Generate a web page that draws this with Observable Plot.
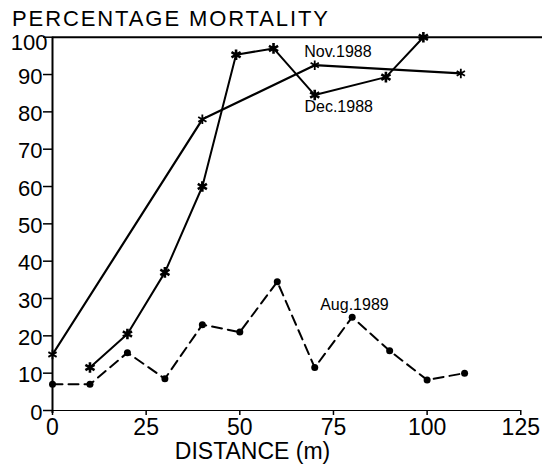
<!DOCTYPE html>
<html>
<head>
<meta charset="utf-8">
<script src="https://cdn.jsdelivr.net/npm/d3@7"></script>
<script src="https://cdn.jsdelivr.net/npm/@observablehq/plot@0.6"></script>
<style>
  html, body { margin: 0; padding: 0; background: #fff; }
  #wrap { position: relative; width: 542px; height: 466px; }
  #title { position: absolute; left: 12px; top: 0px; font-family: "Liberation Sans", Arial, sans-serif; font-size: 22px; line-height: 22px; padding-top: 8px; letter-spacing: 1.9px; color: #000; white-space: nowrap; }
</style>
</head>
<body>
<div id="wrap"><div id="title">PERCENTAGE MORTALITY</div></div>
<script>
// Nov. 1988 (solid line, asterisks)
const novX = [0, 40, 70, 109];
const novY = [15, 78, 92.5, 90.3];
// Dec. 1988 (solid line, asterisks)
const decX = [10, 20, 30, 40, 49, 59, 70, 89, 99];
const decY = [11.5, 20.5, 37, 60, 95.3, 97, 84.5, 89.3, 100];
// Aug. 1989 (dashed line, dots)
const augX = [0, 10, 20, 30, 40, 50, 60, 70, 80, 90, 100, 110];
const augY = [7, 7, 15.5, 8.5, 23, 21, 34.5, 11.5, 25, 16, 8.2, 10];
// tick labels
const xTicks = [0, 25, 50, 75, 100, 125];
const yTicks = [0, 10, 20, 30, 40, 50, 60, 70, 80, 90, 100];
const seriesNames = ["Nov.1988", "Dec.1988", "Aug.1989"];
const xTitle = "DISTANCE (m)";

const nov = novX.map((x, i) => ({x, y: novY[i]}));
const dec = decX.map((x, i) => ({x, y: decY[i]}));
const aug = augX.map((x, i) => ({x, y: augY[i]}));

// annotation anchors (data units)
const labels = [
  {text: seriesNames[0], x: 76.2, y: 96.2, w: "normal"},
  {text: seriesNames[1], x: 76.4, y: 81.3, w: "bold"},
  {text: seriesNames[2], x: 80.6, y: 28.2, w: "normal"}
];

const yTop = yTicks[yTicks.length - 1];
const chart = Plot.plot({
  width: 542,
  height: 466,
  marginLeft: 52,
  marginRight: 0,
  marginTop: 36.7,
  marginBottom: 56,
  style: {fontFamily: "Liberation Sans, Arial, sans-serif", background: "#fff", color: "#000"},
  x: {domain: [0, 130.8]},
  y: {domain: [0, 100]},
  marks: [
    Plot.axisX({ticks: xTicks, tickSize: 5, tickPadding: 3, fontSize: 23, label: null, stroke: "#000", strokeWidth: 1.5}),
    Plot.axisY({ticks: yTicks, tickSize: 9, text: null, label: null, stroke: "#000", strokeWidth: 1.5}),
    Plot.axisY({ticks: yTicks.filter(t => t !== yTop), tickSize: 0, tickPadding: 10, fontSize: 22, dy: 2, label: null}),
    Plot.axisY({ticks: [yTop], tickSize: 0, tickPadding: 5, fontSize: 22, dy: 6, label: null}),
    Plot.ruleY([100], {stroke: "#000", strokeWidth: 2}),
    Plot.ruleY([0], {x1: 0, x2: 125, stroke: "#000", strokeWidth: 1.2}),
    Plot.ruleX([0], {y1: -0.8, y2: 100, stroke: "#000", strokeWidth: 2}),
    Plot.line(aug, {x: "x", y: "y", stroke: "#000", strokeWidth: 2, strokeDasharray: "10,6"}),
    Plot.dot(aug, {x: "x", y: "y", r: 3.5, fill: "#000"}),
    Plot.line(nov, {x: "x", y: "y", stroke: "#000", strokeWidth: 2.2}),
    Plot.dot(nov, {x: "x", y: "y", symbol: "asterisk", r: 4.5, stroke: "#000", strokeWidth: 1.8}),
    Plot.line(dec, {x: "x", y: "y", stroke: "#000", strokeWidth: 2}),
    Plot.dot(dec, {x: "x", y: "y", symbol: "asterisk", r: 5, stroke: "#000", strokeWidth: 2.6}),
    Plot.text(labels, {x: "x", y: "y", text: "text", fontSize: 16, fontWeight: d => d.w, fill: "#000"}),
    Plot.text([xTitle], {x: 53.4, frameAnchor: "bottom", dy: 48, text: d => d, fontSize: 23, fill: "#000"})
  ]
});
document.getElementById("wrap").prepend(chart);
</script>
</body>
</html>
